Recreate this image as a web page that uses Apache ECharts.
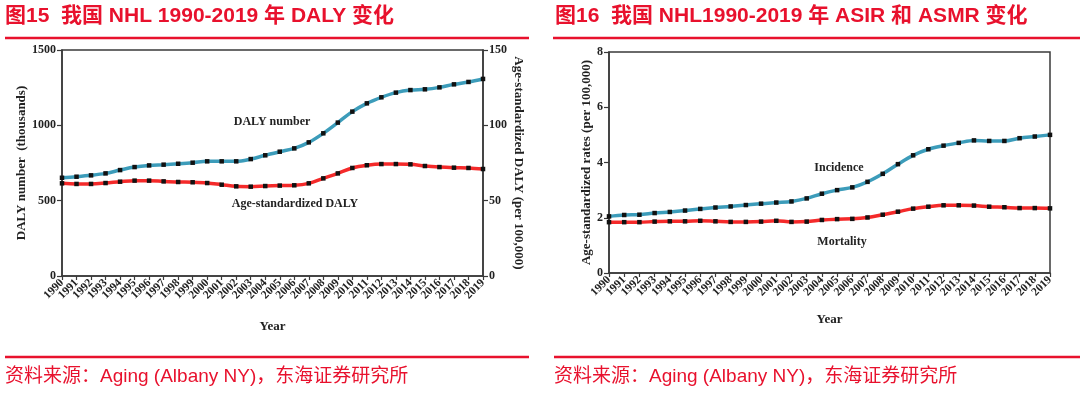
<!DOCTYPE html>
<html><head><meta charset="utf-8">
<script src="https://cdn.jsdelivr.net/npm/echarts@6/dist/echarts.min.js"></script>
<style>html,body{margin:0;padding:0;background:#fff}#c{width:1080px;height:394px}</style>
</head><body><div id="c"></div>
<script>
const years = ['1990','1991','1992','1993','1994','1995','1996','1997','1998','1999','2000','2001','2002','2003','2004','2005','2006','2007','2008','2009','2010','2011','2012','2013','2014','2015','2016','2017','2018','2019'];
const dalyNumber = [652,659,668,681,703,723,734,739,745,752,761,761,761,776,801,825,847,887,947,1018,1091,1146,1186,1217,1234,1239,1252,1272,1288,1308];
const dalyAgeStd = [61.5,61.1,61.1,61.7,62.6,63.3,63.3,62.8,62.4,62.2,61.7,60.6,59.5,59.3,59.7,60.0,60.2,61.5,64.8,68.1,71.7,73.5,74.3,74.3,74.1,73.0,72.3,71.9,71.7,71.0];
const incidence = [2.05,2.10,2.11,2.17,2.21,2.26,2.32,2.37,2.41,2.46,2.51,2.55,2.59,2.70,2.87,3.00,3.10,3.30,3.59,3.94,4.26,4.48,4.61,4.71,4.80,4.78,4.78,4.88,4.94,5.00];
const mortality = [1.84,1.84,1.84,1.86,1.87,1.87,1.89,1.87,1.85,1.85,1.86,1.89,1.85,1.86,1.92,1.95,1.96,2.01,2.11,2.22,2.33,2.40,2.45,2.45,2.44,2.40,2.38,2.35,2.35,2.34];
const leftTicks = {min:0,max:1500,interval:500};
const rightTicks = {min:0,max:150,interval:50};
const rateTicks = {min:0,max:8,interval:2};

const RED = '#e8112d';
const TEAL = '#3c9cba';
const LRED = '#f42a2a';
const AX = '#3a3a3a';
const SERIF = '"Liberation Serif","Times New Roman",serif';
const CN = '"Liberation Sans","Noto Sans CJK SC",sans-serif';

function xAxis(gi, nameGap){
  return {type:'category', gridIndex:gi, data:years, boundaryGap:false,
    name:'Year', nameLocation:'middle', nameGap:nameGap,
    nameTextStyle:{fontFamily:SERIF,fontWeight:'bold',fontSize:13,color:'#222'},
    axisLine:{lineStyle:{color:AX,width:1.5}},
    axisTick:{show:true,length:4,lineStyle:{color:AX,width:1.2}},
    axisLabel:{rotate:45,interval:0,margin:5,fontFamily:SERIF,fontWeight:'bold',fontSize:11.5,color:'#222'},
    splitLine:{show:false}};
}
function yAxis(gi, t, pos, name, gap, rot){
  return {type:'value', gridIndex:gi, position:pos, min:t.min, max:t.max, interval:t.interval,
    name:name, nameLocation:'middle', nameGap:gap, nameRotate:rot,
    nameTextStyle:{fontFamily:SERIF,fontWeight:'bold',fontSize:13,color:'#222'},
    axisLine:{show:true,lineStyle:{color:AX,width:1.5}},
    axisTick:{show:true,length:5,lineStyle:{color:AX,width:1.2}},
    axisLabel:{margin:6,fontFamily:SERIF,fontWeight:'bold',fontSize:12,color:'#222',formatter:function(v){return String(v);}},
    splitLine:{show:false}};
}
function line(xi, yi, data, color){
  return {type:'line', xAxisIndex:xi, yAxisIndex:yi, data:data, smooth:0.35,
    symbol:'rect', symbolSize:4.5, itemStyle:{color:'#111'},
    lineStyle:{color:color,width:3.5}, z:3};
}
function txt(x,y,text,size,extra){
  return {type:'text', x:x, y:y, style:Object.assign({text:text,fontFamily:SERIF,fontWeight:'bold',fontSize:size,fill:'#222',align:'center',verticalAlign:'middle'},extra||{})};
}
function hline(x1,x2,y){
  return {type:'line', shape:{x1:x1,y1:y,x2:x2,y2:y}, style:{stroke:RED,lineWidth:2.5}};
}

const chart = echarts.init(document.getElementById('c'));
chart.setOption({
  animation:false,
  backgroundColor:'#fff',
  grid:[
    {left:62, top:50, width:421, height:226, show:true, borderColor:AX, borderWidth:1.5, containLabel:false},
    {left:609, top:52, width:441, height:221, show:true, borderColor:AX, borderWidth:1.5, containLabel:false}
  ],
  xAxis:[xAxis(0,44), xAxis(1,40)],
  yAxis:[
    yAxis(0,leftTicks,'left','DALY number  (thousands)',27,90),
    yAxis(0,rightTicks,'right','Age-standardized DALY (per 100,000)',29,-90),
    yAxis(1,rateTicks,'left','Age-standardized rates (per 100,000)',12,90)
  ],
  series:[
    line(0,0,dalyNumber,TEAL),
    line(0,1,dalyAgeStd,LRED),
    line(1,2,incidence,TEAL),
    line(1,2,mortality,LRED)
  ],
  graphic:[
    {type:'text', x:5, y:16, style:{text:'图15  我国 NHL 1990-2019 年 DALY 变化', fontFamily:CN, fontWeight:'bold', fontSize:21, fill:RED, verticalAlign:'middle'}},
    {type:'text', x:555, y:16, style:{text:'图16  我国 NHL1990-2019 年 ASIR 和 ASMR 变化', fontFamily:CN, fontWeight:'bold', fontSize:21, fill:RED, verticalAlign:'middle'}},
    hline(5,529,38), hline(553,1080,38),
    hline(5,529,357), hline(554,1080,357),
    {type:'text', x:5, y:377, style:{text:'资料来源：Aging (Albany NY)，东海证券研究所', fontFamily:CN, fontSize:19, fill:RED, verticalAlign:'middle'}},
    {type:'text', x:554, y:377, style:{text:'资料来源：Aging (Albany NY)，东海证券研究所', fontFamily:CN, fontSize:19, fill:RED, verticalAlign:'middle'}},
    txt(272,122,'DALY number',12),
    txt(295,204,'Age-standardized DALY',12),
    txt(839,168,'Incidence',12),
    txt(842,242,'Mortality',12)
  ]
});
</script></body></html>
